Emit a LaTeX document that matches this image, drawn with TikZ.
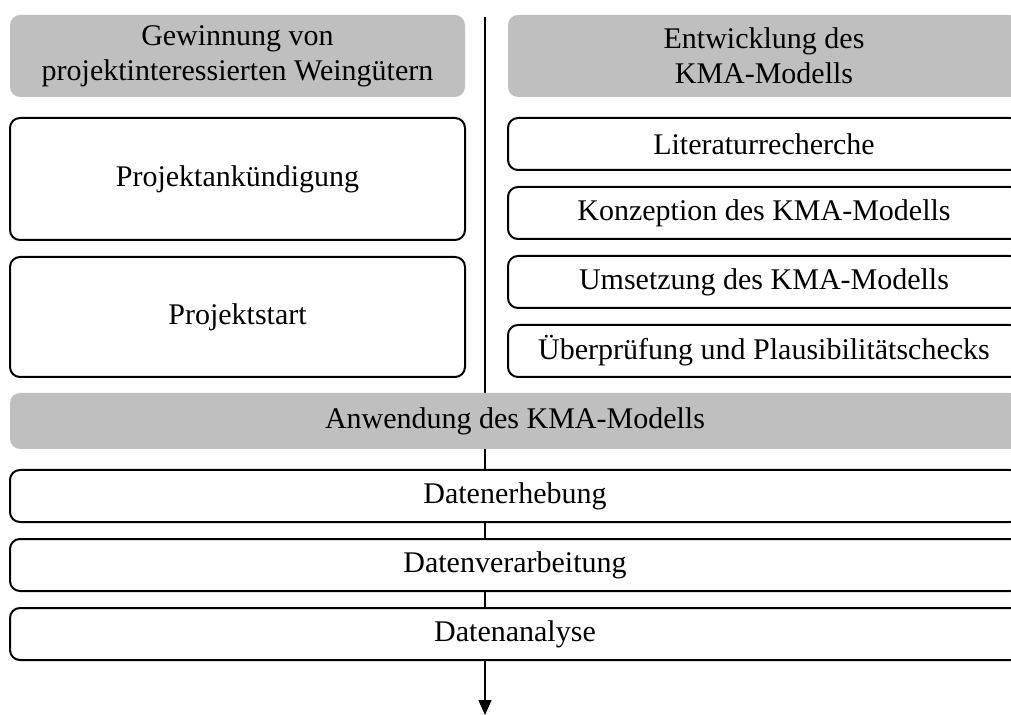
\documentclass[tikz,border=0pt]{standalone}
\usepackage{fontspec}
\setmainfont{Liberation Serif}
\usepackage{tikz}
\usetikzlibrary{arrows.meta,positioning}

\begin{document}
\begin{tikzpicture}[x=0.5pt,y=-0.5pt,>={Triangle[width=6.5pt,length=7.5pt]},
  every node/.style={align=center,font=\fontsize{15}{17.5}\selectfont,inner sep=2pt,outer sep=0pt},
  headbox/.style={fill=black!25,rounded corners=5pt},
  stepbox/.style={draw,line width=1pt,fill=white,rounded corners=5pt},
  leftcol/.style={minimum width=227.5pt},
  rightcol/.style={minimum width=256pt,minimum height=26pt},
  fullrow/.style={minimum width=505pt,minimum height=26pt}]
\clip (0,0) rectangle (1011,715);
% spine
\coordinate (top) at (485,17);
\coordinate (bottom) at (485,715);
\draw[line width=0.7pt,->] (top) -- (bottom);
% left column
\node[headbox,leftcol,minimum height=41pt,anchor=north west] (gew) at (10,15) {Gewinnung von\\ projektinteressierten Weingütern};
\node[stepbox,leftcol,minimum height=61pt,below=10.5pt of gew] (ank) {Projektankündigung};
\node[stepbox,leftcol,minimum height=60pt,below=8.5pt of ank] (start) {Projektstart};
% right column
\node[headbox,rightcol,minimum height=41pt,anchor=north west] (ent) at (508,15) {Entwicklung des\\ KMA-Modells};
\node[stepbox,rightcol,below=10.5pt of ent] (lit) {Literaturrecherche};
\node[stepbox,rightcol,below=8.5pt of lit] (konz) {Konzeption des KMA-Modells};
\node[stepbox,rightcol,below=8.5pt of konz] (ums) {Umsetzung des KMA-Modells};
\node[stepbox,rightcol,below=8.5pt of ums] (pruef) {Überprüfung und Plausibilitätschecks};
% bottom rows
\node[headbox,fullrow,minimum height=28pt,anchor=north west] (anw) at (10,393) {Anwendung des KMA-Modells};
\node[stepbox,fullrow,below=10.5pt of anw] (erh) {Datenerhebung};
\node[stepbox,fullrow,below=8.5pt of erh] (verarb) {Datenverarbeitung};
\node[stepbox,fullrow,below=8.5pt of verarb] (anal) {Datenanalyse};
\end{tikzpicture}
\end{document}
